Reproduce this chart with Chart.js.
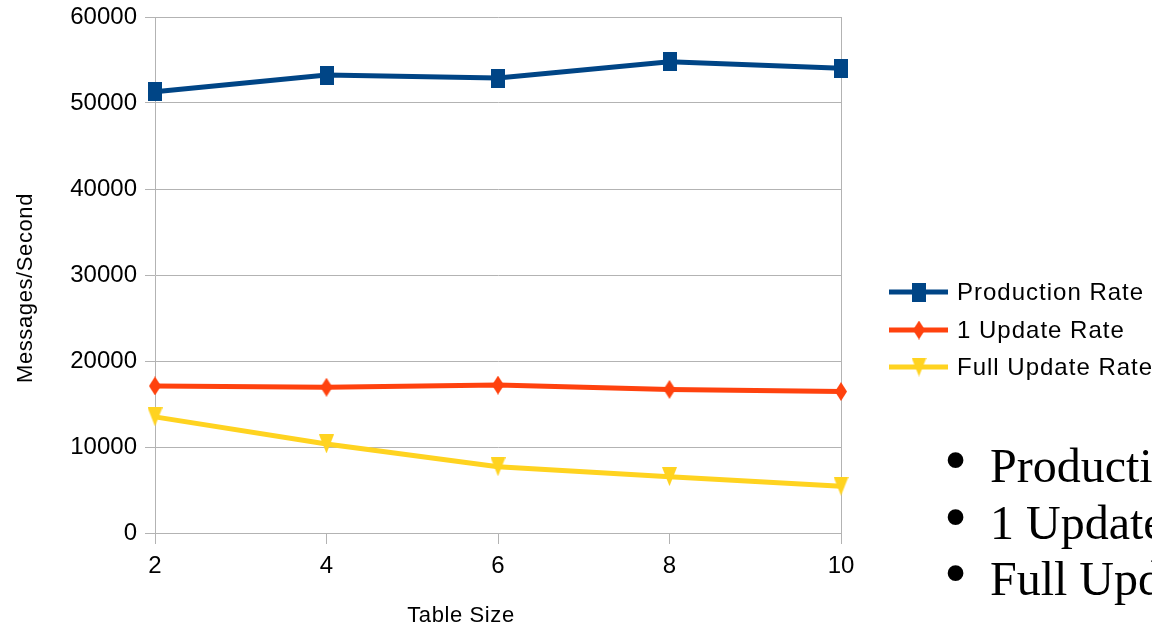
<!DOCTYPE html>
<html>
<head>
<meta charset="utf-8">
<title>Messages/Second vs Table Size</title>
<script src="https://cdn.jsdelivr.net/npm/chart.js@4/dist/chart.umd.min.js"></script>
<style>
  html, body { margin: 0; padding: 0; background: #ffffff; overflow: hidden; width: 1152px; height: 627px; }
  #wrap { position: relative; width: 1152px; height: 627px; overflow: hidden; }
  canvas { display: block; }
  .note { position: absolute; white-space: nowrap; font-family: "Liberation Serif", "Times New Roman", serif; color: #000; }
  .note .txt { position: absolute; left: 990px; font-size: 48px; line-height: 48px; }
  .note .dot { position: absolute; left: 944px; font-size: 66px; line-height: 66px; }
</style>
</head>
<body>
<div id="wrap">
  <canvas id="chart" width="1152" height="627"></canvas>
</div>
<script>
// Table sizes on the x axis
const tableSizes = [2, 4, 6, 8, 10];

// Throughput series (messages per second)
const productionRate = [51300, 53250, 52900, 54800, 54050];
const oneUpdateRate  = [17100, 16950, 17200, 16700, 16450];
const fullUpdateRate = [13500, 10350, 7700, 6550, 5450];

const seriesNames = ['Production Rate', '1 Update Rate', 'Full Update Rate'];

// Y axis ticks
const yTicks = [0, 10000, 20000, 30000, 40000, 50000, 60000];

// Axis titles
const xTitle = 'Table Size';
const yTitle = 'Messages/Second';

// Bullet list beside the chart
const bulletLines = ['Production Rate', '1 Update Rate', 'Full Update Rate'];

const colors = ['#004586', '#ff420e', '#ffd320'];
const gridColor = '#b3b3b3';
const sans = '"Liberation Sans", Arial, sans-serif';

function marker(kind, w, h, color) {
  const c = document.createElement('canvas');
  c.width = w; c.height = h;
  const g = c.getContext('2d');
  g.fillStyle = color;
  g.beginPath();
  if (kind === 'square') {
    g.rect(0, 0, w, h);
  } else if (kind === 'diamond') {
    g.moveTo(w / 2, 0); g.lineTo(w, h / 2); g.lineTo(w / 2, h); g.lineTo(0, h / 2);
    g.closePath();
  } else {
    g.moveTo(0, 0); g.lineTo(w, 0); g.lineTo(w / 2, h);
    g.closePath();
  }
  g.fill();
  return c;
}

const markers = [
  marker('square', 14, 19, colors[0]),
  marker('diamond', 12, 19, colors[1]),
  marker('triangle', 15, 19, colors[2])
];

function toPoints(values) {
  return values.map((v, i) => ({ x: tableSizes[i], y: v }));
}

const seriesValues = [productionRate, oneUpdateRate, fullUpdateRate];

const datasets = seriesValues.map((vals, i) => ({
  label: seriesNames[i],
  data: toPoints(vals),
  borderColor: colors[i],
  backgroundColor: colors[i],
  borderWidth: 5,
  pointStyle: markers[i],
  pointRadius: 9,
  pointHoverRadius: 9,
  tension: 0,
  fill: false,
  clip: false
}));

// Axis titles and legend drawn around the plot
const decorations = {
  id: 'decorations',
  afterDraw(chart) {
    const ctx = chart.ctx;
    ctx.save();
    ctx.fillStyle = '#000';

    // axis titles
    ctx.font = '22px ' + sans;
    ctx.letterSpacing = '0.6px';
    ctx.textAlign = 'center';
    ctx.textBaseline = 'middle';
    ctx.fillText(xTitle, 461, 616);
    ctx.save();
    ctx.translate(26, 288);
    ctx.rotate(-Math.PI / 2);
    ctx.fillText(yTitle, 0, 0);
    ctx.restore();

    // legend
    const rows = [292, 330, 367];
    chart.data.datasets.forEach((ds, i) => {
      const y = rows[i];
      ctx.strokeStyle = ds.borderColor;
      ctx.lineWidth = 5;
      ctx.beginPath();
      ctx.moveTo(889, y);
      ctx.lineTo(948, y);
      ctx.stroke();
      const m = ds.pointStyle;
      ctx.drawImage(m, 919 - m.width / 2, y - m.height / 2);
      ctx.fillStyle = '#000';
      ctx.font = '24px ' + sans;
      ctx.letterSpacing = '1px';
      ctx.textAlign = 'left';
      ctx.textBaseline = 'middle';
      ctx.fillText(ds.label, 957, y + 1);
    });
    ctx.restore();
  }
};

new Chart(document.getElementById('chart'), {
  type: 'line',
  data: { datasets },
  plugins: [decorations],
  options: {
    responsive: false,
    devicePixelRatio: 1,
    animation: false,
    layout: { padding: { top: 17, right: 311, bottom: 0, left: 0 } },
    plugins: {
      legend: { display: false },
      tooltip: { enabled: false }
    },
    scales: {
      x: {
        type: 'linear',
        min: tableSizes[0],
        max: tableSizes[tableSizes.length - 1],
        afterBuildTicks(scale) {
          scale.ticks = tableSizes.map(v => ({ value: v }));
        },
        afterFit(scale) {
          scale.height = 94;
          scale.paddingLeft = 0;
          scale.paddingRight = 0;
        },
        ticks: {
          color: '#000',
          font: { family: sans, size: 24 },
          padding: 8,
          maxRotation: 0,
          callback: v => String(v)
        },
        grid: {
          color: ctx => (ctx.index === tableSizes.length - 1 ? gridColor : 'rgba(0,0,0,0)'),
          tickColor: gridColor,
          tickLength: 11,
          lineWidth: 1
        },
        border: { display: true, color: gridColor, width: 1 },
        title: { display: false }
      },
      y: {
        min: yTicks[0],
        max: yTicks[yTicks.length - 1],
        afterBuildTicks(scale) {
          scale.ticks = yTicks.map(v => ({ value: v }));
        },
        afterFit(scale) {
          scale.width = 155;
          scale.paddingTop = 0;
          scale.paddingBottom = 0;
        },
        ticks: {
          color: '#000',
          font: { family: sans, size: 24 },
          padding: 8,
          callback: v => String(v)
        },
        grid: { color: gridColor, tickColor: gridColor, tickLength: 10, lineWidth: 1 },
        border: { display: true, color: gridColor, width: 1 },
        title: { display: false }
      }
    }
  }
});

// Bullet list text
const baselines = [480, 537, 593];
const wrap = document.getElementById('wrap');
bulletLines.forEach((line, i) => {
  const row = document.createElement('div');
  row.className = 'note';
  row.style.left = '0px';
  row.style.top = '0px';
  const dot = document.createElement('span');
  dot.className = 'dot';
  dot.textContent = '\u2022';
  dot.style.top = (baselines[i] + 2 - 55) + 'px';
  const txt = document.createElement('span');
  txt.className = 'txt';
  txt.textContent = line;
  txt.style.top = (baselines[i] - 38) + 'px';
  row.appendChild(dot);
  row.appendChild(txt);
  wrap.appendChild(row);
});
</script>
</body>
</html>
